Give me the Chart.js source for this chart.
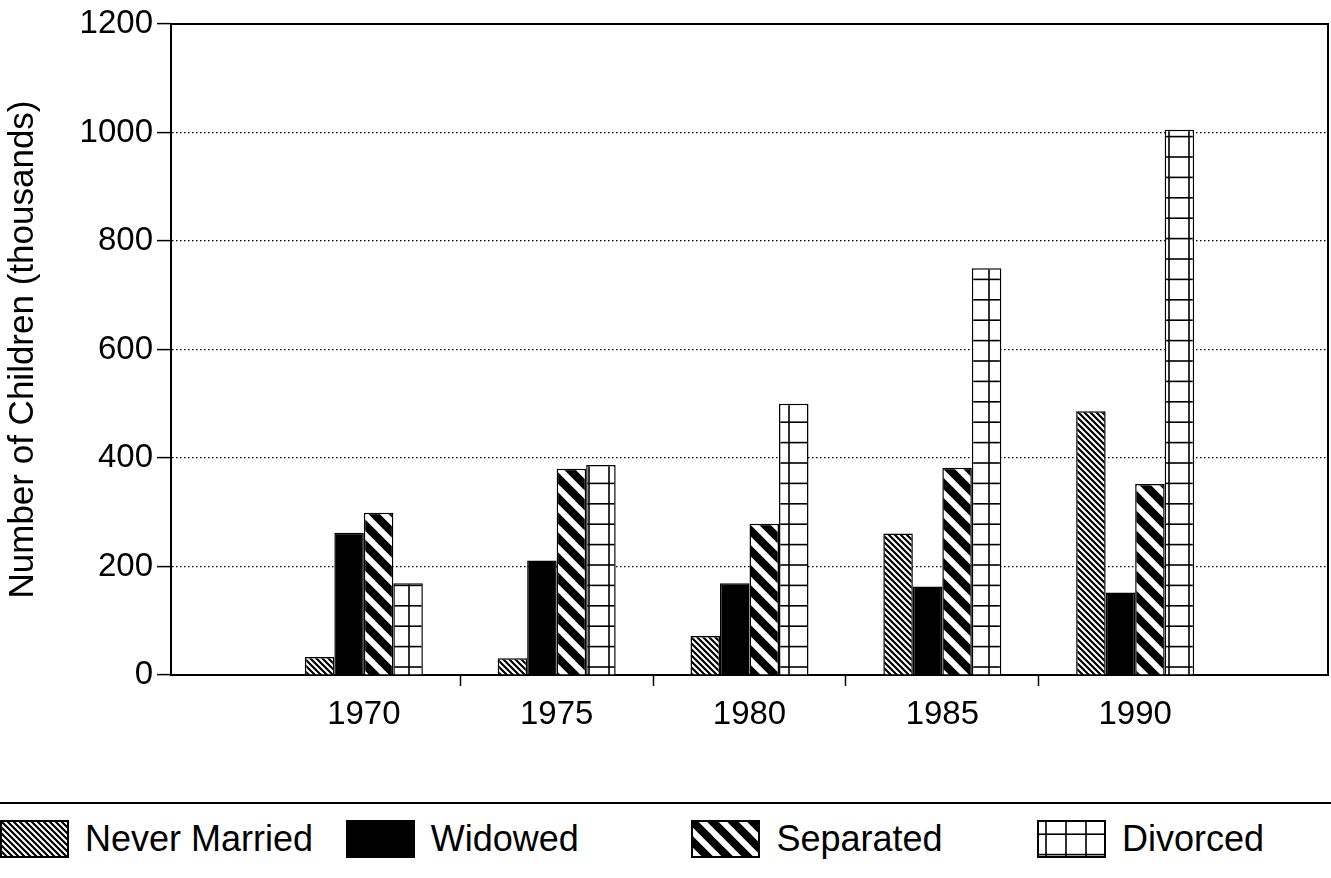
<!DOCTYPE html>
<html>
<head>
<meta charset="utf-8">
<script src="https://cdn.jsdelivr.net/npm/chart.js@4.4.1/dist/chart.umd.min.js"></script>
<style>
    html, body { margin: 0; padding: 0; background: #fff; }
    body { width: 1331px; height: 878px; position: relative; overflow: hidden; font-family: "Liberation Sans", Arial, sans-serif; }
    #chartBox { position: absolute; left: 0; top: 0; width: 1331px; height: 760px; }
    #legend { position: absolute; left: 0; top: 802px; width: 1331px; height: 60px; border-top: 2px solid #000; }
    .item { position: absolute; top: 14px; display: flex; align-items: center; font-size: 36px; color: #000; white-space: nowrap; }
    .item canvas { display: block; margin-right: 16px; }
</style>
</head>
<body>
<div id="chartBox"><canvas id="childrenChart" width="1331" height="760"></canvas></div>
<div id="legend"></div>
<script>
const years = ["1970", "1975", "1980", "1985", "1990"];
const seriesNames = ["Never Married", "Widowed", "Separated", "Divorced"];
const neverMarried = [33, 31, 72, 261, 486];
const widowed = [262, 211, 169, 163, 152];
const separated = [299, 380, 279, 382, 352];
const divorced = [169, 387, 500, 750, 1005];
const yTicks = [0, 200, 400, 600, 800, 1000, 1200];

const FONT = "'Liberation Sans', Arial, sans-serif";

// fill patterns (tiled from the canvas origin)
function stripes(size, width) {
    const c = document.createElement("canvas");
    c.width = size; c.height = size;
    const g = c.getContext("2d");
    g.fillStyle = "#fff";
    g.fillRect(0, 0, size, size);
    g.strokeStyle = "#000";
    g.lineWidth = width;
    g.beginPath();
    for (let k = -3; k <= 3; k++) {
        g.moveTo(k * size - size, -size);
        g.lineTo(k * size + 2 * size, 2 * size);
    }
    g.stroke();
    return c;
}

function grid() {
    const c = document.createElement("canvas");
    c.width = 20; c.height = 102;
    const g = c.getContext("2d");
    g.fillStyle = "#fff";
    g.fillRect(0, 0, 20, 102);
    g.fillStyle = "#000";
    g.fillRect(8.2, 0, 1.6, 102);
    for (let k = 0; k < 5; k++) {
        g.fillRect(0, 13.4 + k * 20.4, 20, 1.6);
    }
    return c;
}

function solid() {
    const c = document.createElement("canvas");
    c.width = 4; c.height = 4;
    const g = c.getContext("2d");
    g.fillStyle = "#000";
    g.fillRect(0, 0, 4, 4);
    return c;
}

const tiles = [stripes(6, 2.2), solid(), stripes(20, 8), grid()];
const ctx = document.getElementById("childrenChart").getContext("2d");
const fills = tiles.map(t => ctx.createPattern(t, "repeat"));

// one empty slot on each side so the groups sit on the tick positions
const pad = arr => [null, ...arr, null];
const labels = ["", ...years, ""];
const values = [neverMarried, widowed, separated, divorced];

const data = {
    labels: labels,
    datasets: seriesNames.map((name, i) => ({
        label: name,
        data: pad(values[i]),
        backgroundColor: fills[i],
        borderColor: "#000",
        borderWidth: 1.5,
        categoryPercentage: 0.612,
        barPercentage: 1.0
    }))
};

// solid frame: left axis, top and right edges
const framePlugin = {
    id: "frame",
    afterDraw(chart) {
        const { ctx, chartArea } = chart;
        ctx.save();
        ctx.setLineDash([]);
        ctx.strokeStyle = "#000";
        ctx.lineWidth = 2;
        ctx.beginPath();
        ctx.moveTo(chartArea.left, chartArea.bottom);
        ctx.lineTo(chartArea.left, chartArea.top);
        ctx.lineTo(chartArea.right, chartArea.top);
        ctx.lineTo(chartArea.right, chartArea.bottom);
        ctx.stroke();
        ctx.restore();
    }
};

const options = {
    responsive: false,
    animation: false,
    layout: { padding: { top: 24, right: 3, left: 0, bottom: 0 } },
    plugins: {
        legend: { display: false },
        tooltip: { enabled: false }
    },
    scales: {
        x: {
            offset: false,
            ticks: {
                color: "#000",
                font: { family: FONT, size: 33 },
                padding: 9,
                maxRotation: 0,
                autoSkip: false
            },
            grid: {
                offset: true,
                drawOnChartArea: false,
                tickLength: 11,
                tickWidth: 1.5,
                color: c => (c.index >= 2 && c.index <= 5) ? "#000" : "rgba(0,0,0,0)"
            },
            border: { display: true, color: "#000", width: 2 },
            afterFit: s => {
                s.height = 85;
                s.paddingLeft = 0;
                s.paddingRight = 0;
            }
        },
        y: {
            min: yTicks[0],
            max: yTicks[yTicks.length - 1],
            afterBuildTicks: s => { s.ticks = yTicks.map(v => ({ value: v })); },
            ticks: {
                color: "#000",
                font: { family: FONT, size: 33 },
                padding: 4,
                callback: v => String(v)
            },
            grid: {
                color: "#000",
                lineWidth: 1.2,
                tickBorderDash: [],
                tickLength: 14,
                tickWidth: 1.5,
                tickColor: "#000"
            },
            border: { display: true, color: "#000", width: 2, dash: [1.5, 2.5] },
            title: {
                display: true,
                text: "Number of Children (thousands)",
                color: "#000",
                font: { family: FONT, size: 35 },
                padding: { top: 2, bottom: 0 }
            },
            afterFit: s => { s.width = 171; }
        }
    }
};

const chart = new Chart(ctx, {
    type: "bar",
    data: data,
    options: options,
    plugins: [framePlugin]
});

// legend in four equal columns under a rule, like the original
const legend = document.getElementById("legend");
chart.data.datasets.forEach((ds, i) => {
    const item = document.createElement("div");
    item.className = "item";
    item.style.left = (i * 345.7) + "px";
    const sw = document.createElement("canvas");
    sw.width = 69; sw.height = 38;
    const g = sw.getContext("2d");
    g.fillStyle = g.createPattern(tiles[i], "repeat");
    g.fillRect(0, 0, 69, 38);
    g.strokeStyle = "#000";
    g.lineWidth = 2;
    g.strokeRect(1, 1, 67, 36);
    const txt = document.createElement("span");
    txt.textContent = ds.label;
    item.appendChild(sw);
    item.appendChild(txt);
    legend.appendChild(item);
});
</script>
</body>
</html>
